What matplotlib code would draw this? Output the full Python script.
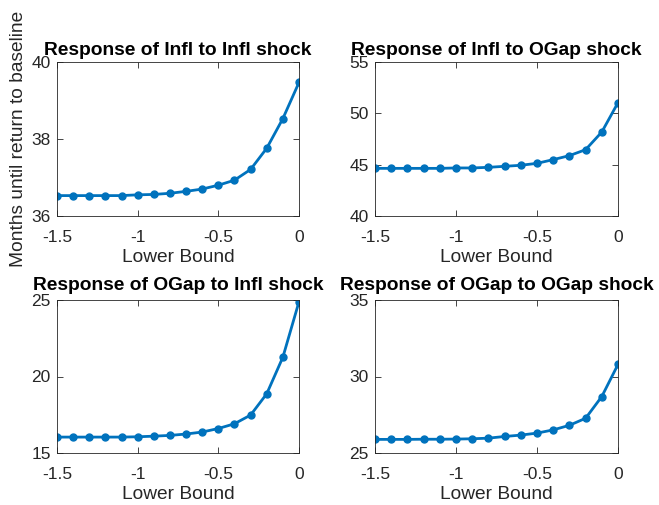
import matplotlib
matplotlib.use("Agg")
import matplotlib.pyplot as plt

plt.rcParams['font.family'] = ['Liberation Sans', 'DejaVu Sans']

lower_bound = [-1.5, -1.4, -1.3, -1.2, -1.1, -1.0, -0.9, -0.8,
               -0.7, -0.6, -0.5, -0.4, -0.3, -0.2, -0.1, 0.0]

infl_infl = [36.53, 36.53, 36.53, 36.53, 36.53, 36.55, 36.56, 36.59,
             36.64, 36.70, 36.80, 36.93, 37.21, 37.76, 38.53, 39.47]
infl_ogap = [44.64, 44.64, 44.64, 44.64, 44.64, 44.68, 44.68, 44.74,
             44.84, 44.94, 45.13, 45.49, 45.88, 46.46, 48.18, 51.04]
ogap_infl = [16.04, 16.04, 16.04, 16.04, 16.04, 16.06, 16.10, 16.15,
             16.24, 16.37, 16.60, 16.91, 17.48, 18.87, 21.26, 24.89]
ogap_ogap = [25.89, 25.89, 25.89, 25.90, 25.90, 25.91, 25.93, 25.97,
             26.08, 26.17, 26.30, 26.51, 26.81, 27.27, 28.69, 30.79]

titles = ["Response of Infl to Infl shock", "Response of Infl to OGap shock",
          "Response of OGap to Infl shock", "Response of OGap to OGap shock"]
series = [infl_infl, infl_ogap, ogap_infl, ogap_ogap]
ylims = [(36, 40), (40, 55), (15, 25), (25, 35)]
yticks = [[36, 38, 40], [40, 45, 50, 55], [15, 20, 25], [25, 30, 35]]

W, H = 659, 505
# axes boxes in pixels: left, top, right, bottom
boxes = [(57, 62, 299, 216), (375, 62, 618, 216),
         (57, 300, 299, 453), (375, 300, 618, 453)]
title_pads = [5, 5, 7, 7]

fig = plt.figure(figsize=(W / 100, H / 100), dpi=100)
grey = '#262626'
blue = '#0072BD'

for i in range(4):
    l, t, r, b = boxes[i]
    ax = fig.add_axes([l / W, 1 - b / H, (r - l) / W, (b - t) / H])
    ax.plot(lower_bound, series[i], '-o', color=blue, lw=2, ms=5,
            markerfacecolor=blue, markeredgecolor=blue)
    ax.set_xlim(-1.5, 0)
    ax.set_ylim(*ylims[i])
    ax.set_xticks([-1.5, -1, -0.5, 0])
    ax.set_xticklabels(['-1.5', '-1', '-0.5', '0'])
    ax.set_yticks(yticks[i])
    ax.tick_params(direction='in', top=True, right=True, length=4,
                   width=0.6, labelsize=12.5, colors=grey)
    ax.tick_params(axis='x', pad=10)
    ax.tick_params(axis='y', pad=4.5)
    for s in ax.spines.values():
        s.set_color(grey)
        s.set_linewidth(0.6)
    ax.set_xlabel('Lower Bound', fontsize=13.8, color=grey, labelpad=3)
    ax.set_title(titles[i], fontsize=13.8, fontweight='bold',
                 pad=title_pads[i])
    if i == 0:
        ax.set_ylabel('Months until return to baseline', fontsize=13.8,
                      color=grey, labelpad=3)

fig.savefig('out.png', dpi=100)
